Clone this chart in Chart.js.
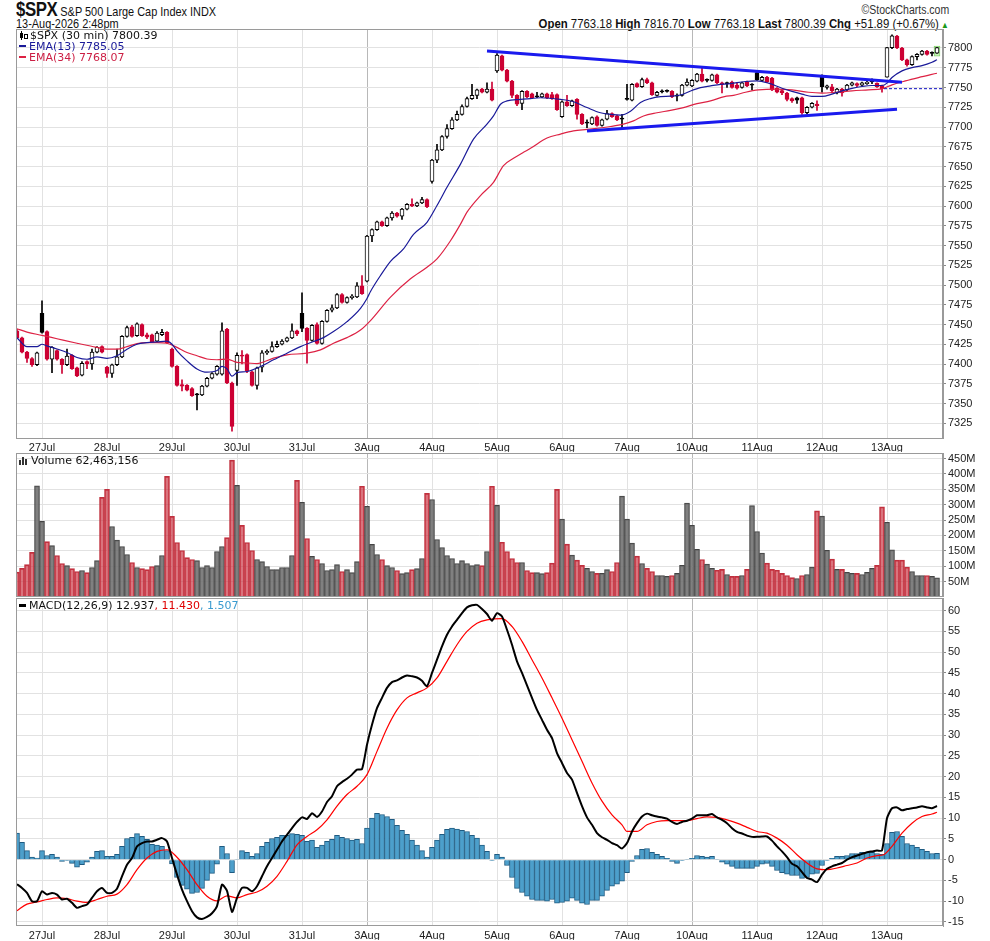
<!DOCTYPE html>
<html>
<head>
<meta charset="utf-8">
<title>$SPX 30 min</title>
<script src="https://cdn.jsdelivr.net/npm/chart.js@4.4.1/dist/chart.umd.min.js"></script>
<style>
  html, body { margin: 0; padding: 0; background: #fff; }
  body { width: 990px; height: 941px; position: relative; overflow: hidden; font-family: "Liberation Sans", Arial, sans-serif; }
  .panel { position: absolute; left: 0; width: 990px; }
  .panel canvas { display: block; }
  .txt { position: absolute; white-space: nowrap; color: #111; }
  .hdr { font-family: "Liberation Sans", Arial, sans-serif; font-size: 13px; line-height: 14px; }
  .sqL { transform: scaleX(0.84); transform-origin: left center; }
  .sqR { transform: scaleX(0.875); transform-origin: right center; }
  .leg { font-family: "DejaVu Sans", Verdana, sans-serif; font-size: 11px; line-height: 11px; }
  .dash { display: inline-block; width: 7px; height: 2px; vertical-align: middle; margin-right: 3px; position: relative; top: -1px; }
</style>
</head>
<body>

<div class="txt hdr sqL" style="left:16px; top:2px;"><b style="font-size:20px; letter-spacing:-0.5px;">$SPX</b> S&amp;P 500 Large Cap Index INDX</div>
<div class="txt hdr sqL" style="left:16px; top:17px;">13-Aug-2026 2:48pm</div>
<div class="txt hdr sqR" style="right:41px; top:3px; color:#333; font-size:12px;">&copy;StockCharts.com</div>
<div class="txt hdr sqR" style="right:41px; top:17px;"><b>Open</b> 7763.18 <b>High</b> 7816.70 <b>Low</b> 7763.18 <b>Last</b> 7800.39 <b>Chg</b> +51.89 (+0.67%)<span style="color:#1a9a1a; font-size:9px;"> &#9650;</span></div>

<div class="panel" style="top:29px; height:423px;"><canvas id="priceChart" width="990" height="423"></canvas></div>
<div class="panel" style="top:453px; height:144px;"><canvas id="volumeChart" width="990" height="144"></canvas></div>
<div class="panel" style="top:598px; height:342px;"><canvas id="macdChart" width="990" height="342"></canvas></div>

<div class="txt leg" style="left:19px; top:30px;">
  <div><svg width="9" height="9" style="vertical-align:-1px; margin-right:2px;"><rect x="1" y="2" width="3" height="5" fill="#000"/><line x1="2.5" y1="0" x2="2.5" y2="9" stroke="#000"/><rect x="5.5" y="3.5" width="3" height="4" fill="#fff" stroke="#000"/></svg>$SPX (30 min) 7800.39</div>
  <div style="color:#1a1a99;"><span class="dash" style="background:#1a1a99;"></span>EMA(13) 7785.05</div>
  <div style="color:#cc1f44;"><span class="dash" style="background:#dd2244;"></span>EMA(34) 7768.07</div>
</div>
<div class="txt leg" style="left:19px; top:455px;"><svg width="9" height="9" style="vertical-align:-1px; margin-right:3px;"><rect x="0" y="4" width="2" height="5" fill="#333"/><rect x="3" y="1" width="2" height="8" fill="#333"/><rect x="6" y="3" width="2" height="6" fill="#333"/></svg>Volume 62,463,156</div>
<div class="txt leg" style="left:19px; top:600px;"><span class="dash" style="background:#000; height:3px;"></span>MACD(12,26,9) 12.937<span style="color:#e00000;">, 11.430</span><span style="color:#3a9bd0;">, 1.507</span></div>

<script>
// ---- x axis: one point per 30-minute bar, day starts get a label ----
const dayIdx = [5, 18, 31, 44, 57, 70, 83, 96, 109, 122, 135, 148, 161, 174];
const dayLabels = ['27Jul', '28Jul', '29Jul', '30Jul', '31Jul', '3Aug', '4Aug', '5Aug', '6Aug', '7Aug', '10Aug', '11Aug', '12Aug', '13Aug'];
const weekStartLabels = ['3Aug', '10Aug'];

// ---- price bars (30 min) ----
const opens = [
  7442, 7433, 7415, 7407, 7399,
  7464, 7441, 7406, 7417, 7406, 7399, 7411, 7395, 7386, 7403, 7400, 7415, 7422,
  7396, 7388, 7399, 7409, 7435, 7447, 7436, 7450, 7437, 7437, 7429, 7437, 7440,
  7419, 7397, 7374, 7373, 7369, 7362, 7361, 7372, 7382, 7387, 7387, 7444, 7376,
  7392, 7411, 7412, 7390, 7373, 7396, 7414, 7416, 7422, 7425, 7429, 7433, 7442,
  7464, 7445, 7430, 7450, 7426, 7454, 7468, 7471, 7488, 7478, 7484, 7485, 7499,
  7505, 7562, 7570, 7580, 7575, 7585, 7591, 7587, 7596, 7602, 7600, 7604, 7608,
  7631, 7658, 7671, 7688, 7698, 7709, 7716, 7726, 7736, 7740, 7748, 7744, 7748,
  7771, 7790, 7772, 7758, 7740, 7730, 7745, 7742, 7739.5, 7738, 7742, 7741, 7741,
  7713, 7732, 7727, 7735, 7716, 7706, 7704, 7713, 7702, 7710, 7717, 7714, 7711,
  7736, 7734, 7755, 7751, 7760, 7756, 7740, 7745, 7746, 7745, 7740, 7740, 7753,
  7752, 7758, 7767, 7760, 7759, 7766, 7756, 7756, 7757, 7753, 7750, 7757, 7754,
  7769, 7759, 7763, 7762, 7749, 7746, 7743, 7736, 7737, 7737, 7718, 7725, 7729,
  7765, 7750, 7751, 7743, 7748, 7747, 7753, 7755, 7753, 7755, 7757.5, 7755.5, 7752.5,
  7763.18, 7800.4, 7815, 7800, 7785, 7779, 7789, 7792, 7796, 7794, 7793.3
];
const highs = [
  7444, 7434, 7416, 7408, 7415,
  7480, 7442, 7422, 7418, 7407, 7419, 7412, 7396, 7403, 7404, 7419, 7422, 7423,
  7397, 7400, 7419, 7436, 7448, 7449, 7452, 7451, 7439, 7438, 7441, 7444, 7441,
  7420, 7398, 7380, 7374, 7370, 7363, 7373, 7383, 7389, 7398, 7452, 7445, 7377,
  7414, 7417, 7413, 7391, 7396, 7417, 7418, 7428, 7429, 7431, 7434, 7451, 7443,
  7490, 7446, 7450, 7452, 7455, 7469, 7475, 7489, 7489, 7485, 7488, 7503, 7512,
  7563, 7571, 7581, 7581, 7586, 7593, 7592, 7597, 7603, 7609, 7605, 7611, 7609,
  7659, 7678, 7689, 7703, 7712, 7720, 7728, 7738, 7754, 7748, 7749, 7756, 7757,
  7793, 7791, 7773, 7759, 7741, 7746, 7746, 7743, 7744, 7743, 7743, 7744, 7742,
  7733, 7740, 7734, 7736, 7717, 7709, 7713, 7714, 7710, 7721, 7718, 7715, 7716,
  7754, 7755, 7756, 7762, 7762, 7757, 7745, 7747, 7747, 7746, 7742, 7754, 7761,
  7760, 7768, 7775, 7761, 7767, 7767, 7757, 7757, 7758, 7756, 7757, 7758, 7755,
  7770, 7764, 7764, 7763, 7750, 7747, 7744, 7737, 7738, 7738, 7726, 7731, 7733,
  7766, 7753, 7754, 7749, 7749, 7754, 7757, 7756, 7757, 7758, 7761, 7756, 7753,
  7801, 7816.7, 7816, 7801, 7786, 7790, 7793, 7797, 7797, 7795, 7801
];
const lows = [
  7432, 7414, 7402, 7397, 7398,
  7439, 7405, 7389, 7405, 7388, 7398, 7393, 7384, 7385, 7394, 7393, 7414, 7414,
  7383, 7383, 7398, 7408, 7434, 7434, 7435, 7435, 7432, 7427, 7428, 7436, 7426,
  7396, 7372, 7366, 7366, 7359, 7342, 7360, 7371, 7381, 7386, 7386, 7375, 7315,
  7373, 7400, 7389, 7372, 7368, 7390, 7412, 7415, 7421, 7424, 7428, 7432, 7436,
  7441, 7401, 7429, 7425, 7425, 7453, 7466, 7470, 7477, 7477, 7482, 7484, 7488,
  7504, 7555, 7569, 7574, 7574, 7582, 7586, 7583, 7595, 7599, 7599, 7603, 7598,
  7629, 7655, 7670, 7686, 7697, 7708, 7715, 7725, 7735, 7736, 7743, 7743, 7733,
  7769, 7771, 7757, 7737, 7727, 7722, 7737, 7736, 7737, 7737, 7736, 7735, 7721,
  7712, 7726, 7726, 7710, 7703, 7699, 7703, 7701, 7701, 7709, 7712, 7708, 7699,
  7734, 7733, 7750, 7750, 7755, 7740, 7739, 7743, 7744, 7737, 7733, 7739, 7752,
  7751, 7757, 7757, 7757, 7758, 7755, 7743, 7750, 7749, 7748, 7749, 7751, 7747,
  7759, 7758, 7756, 7746, 7743, 7741, 7733, 7731, 7730, 7716, 7717, 7724, 7721,
  7744, 7748, 7743, 7742, 7739, 7746, 7752, 7751, 7752, 7754, 7755, 7750, 7744,
  7763.18, 7799, 7799, 7784, 7777, 7778, 7785, 7791, 7791, 7790, 7793
];
const closes = [
  7433, 7415, 7407, 7399, 7414,
  7440, 7406, 7421, 7406, 7399, 7410, 7394, 7385, 7401, 7400, 7415, 7421, 7415,
  7388, 7399, 7409, 7435, 7446, 7435, 7451, 7436, 7434, 7428, 7439, 7440, 7427,
  7397, 7373, 7372, 7367, 7360, 7361, 7372, 7382, 7388, 7397, 7442, 7376, 7321,
  7411, 7410, 7391, 7373, 7395, 7414, 7416, 7422, 7425, 7429, 7433, 7442, 7438,
  7445, 7430, 7449, 7426, 7454, 7468, 7471, 7488, 7478, 7484, 7486, 7499, 7489,
  7562, 7570, 7580, 7575, 7585, 7591, 7587, 7596, 7602, 7600, 7604, 7608, 7599,
  7658, 7671, 7688, 7698, 7709, 7716, 7726, 7736, 7740, 7747, 7744, 7748, 7734,
  7791, 7772, 7758, 7740, 7729, 7745, 7738, 7737, 7738, 7742, 7737, 7736, 7722,
  7732, 7727, 7733, 7716, 7704, 7705, 7712, 7702, 7709, 7717, 7713, 7709, 7710,
  7735, 7754, 7751, 7760, 7756, 7741, 7744, 7744.5, 7745, 7738, 7739, 7753, 7757,
  7759, 7767, 7758, 7759, 7766, 7756, 7754, 7755, 7750, 7749, 7756, 7752, 7753,
  7760, 7763, 7757, 7747, 7744, 7743, 7735, 7733, 7734, 7718, 7725, 7730, 7727,
  7751, 7752, 7746, 7748, 7743, 7753, 7756, 7752.5, 7756, 7756.7, 7757, 7751, 7748.5,
  7800.4, 7815.5, 7800, 7785, 7779, 7789, 7792, 7796, 7792, 7793.2, 7800.39
];
const firstPrevClose = 7445;   // close of the bar before the first one shown
const prevDayClose = 7748.5;   // dashed line across 13Aug
const prevCloseLineIdx = [173.4, 185.2];

// ---- overlays on price ----
const ema13Idx = [0, 2, 4, 5, 6, 8, 10, 12, 14, 16, 18, 20, 22, 24, 26, 28, 30, 31, 32, 34, 36, 38, 40, 41, 42, 43, 44, 46,
  48.7, 51.3, 54, 56.7, 59.3, 61.3, 63.3, 66, 68.7, 70, 70.7, 72.7, 74.7, 77.3, 79.3, 82, 84, 86, 88.7, 91.3, 94, 95.3, 96.7, 98,
  100.7, 102.7, 104.7, 108.7, 111.3, 114, 116.7, 118.7, 120.7, 122.7, 124.7, 126.7, 128.7, 130.7, 132.7, 134.7, 136.7, 138.7, 140.7,
  142.3, 145.7, 148, 150.3, 153, 155, 157, 159, 161, 163, 165, 167, 169, 171, 173, 174, 175, 177, 179, 181, 183, 184];
const ema13Val = [7433.3, 7422, 7422, 7425, 7423, 7419, 7414.6, 7408.3, 7406, 7409, 7407, 7410.4, 7418.8, 7425, 7427, 7428, 7429, 7425, 7416.7, 7404, 7393.8, 7389.6, 7391.7, 7397, 7393.8, 7384.6, 7389, 7390.5,
  7396.8, 7405.3, 7413.7, 7422, 7428.4, 7433.4, 7441, 7453.6, 7470.4, 7483, 7491.8, 7512, 7530, 7545.6, 7564, 7579.4, 7600.6, 7623.7, 7653, 7684.7, 7703.6, 7714, 7728.8, 7733,
  7735, 7736, 7737, 7735, 7732, 7724.6, 7718, 7716, 7715, 7720, 7731, 7736, 7738.4, 7739, 7740.5, 7745.6, 7749.8, 7752, 7754,
  7754.5, 7757.6, 7758.4, 7755.5, 7749, 7745, 7741.6, 7738.7, 7738.7, 7741.6, 7745.8, 7749, 7751.3, 7752.5, 7752.5, 7755.5, 7762.6, 7771, 7775.2, 7777.7, 7782, 7785.05];
const ema34Idx = [0, 2, 5, 8, 12, 16, 18, 20, 22, 24, 26, 28, 30, 32, 34, 36, 38, 40, 42, 44, 46, 48, 51.3, 54, 58, 60.7, 63.3, 66, 68.7, 70.7,
  74.7, 78.7, 82, 84, 86.7, 88.7, 90, 92.7, 95.3, 97.3, 99.3, 101.3, 102.7, 106, 108.7, 111.3, 114, 118.7, 121.3, 123.3, 125.3, 128, 130.7,
  133.3, 136, 138.7, 141.5, 143.3, 145.7, 148.3, 151.7, 155, 158.3, 161, 163.7, 167, 170.3, 173, 175, 177.7, 180.3, 184];
const ema34Val = [7444.6, 7440.4, 7436.3, 7432, 7426.3, 7421, 7418.8, 7418.8, 7422, 7425.8, 7427, 7427, 7426.3, 7421, 7414.6, 7410.4, 7406.3, 7405.4, 7406.3, 7402, 7401.3, 7400.5, 7407.4, 7411.6, 7413.7, 7417.9, 7426.3, 7433.4, 7443, 7455,
  7484.7, 7507.8, 7522.5, 7533, 7556, 7577, 7592.2, 7613.2, 7630, 7651, 7660.3, 7668, 7673, 7686, 7691, 7695, 7697, 7700.6, 7703.6, 7707.8, 7714, 7718, 7721,
  7724.6, 7729.6, 7733, 7738.5, 7740, 7744, 7747, 7748, 7747, 7744, 7743, 7744, 7745.8, 7747, 7748.3, 7753.4, 7758.4, 7762.6, 7768.07];
const upperTrendIdx = [94, 177];
const upperTrendVal = [7796.2, 7756.6];
const lowerTrendIdx = [114, 176];
const lowerTrendVal = [7694.9, 7722.4];

// ---- volume, millions of shares ----
const volumes = [
  81, 93, 105, 145, 361,
  246, 180, 167, 135, 109, 102, 92, 83, 86, 79, 96, 118, 324,
  350, 229, 185, 164, 138, 112, 96, 92, 89, 99, 102, 135, 392,
  262, 177, 151, 128, 122, 118, 96, 102, 96, 148, 164, 193, 445,
  363, 233, 177, 151, 122, 115, 99, 89, 89, 96, 96, 135, 379,
  308, 190, 132, 122, 109, 86, 89, 105, 83, 89, 79, 115, 360,
  295, 171, 138, 122, 102, 96, 86, 76, 79, 89, 92, 125, 337,
  317, 187, 161, 135, 125, 109, 118, 109, 102, 105, 102, 148, 360,
  298, 178, 148, 125, 112, 112, 86, 79, 79, 76, 79, 110, 350,
  253, 172, 136, 120, 103, 93, 83, 77, 77, 89, 83, 112, 328,
  253, 175, 133, 109, 93, 83, 70, 70, 67, 70, 77, 103, 305,
  233, 155, 122, 107, 93, 87, 90, 73, 67, 67, 70, 90, 297,
  213, 143, 110, 90, 87, 77, 70, 63, 60, 70, 73, 97, 280,
  263, 152, 123, 90, 90, 80, 77, 77, 73, 80, 93, 103, 293,
  243, 153, 120, 120, 97, 83, 70, 70, 70, 67, 62.46
];

// ---- MACD(12,26,9) ----
const macdVals = [
  -5.9, -6.8, -8.0, -10.0, -10.0,
  -7.6, -8.4, -8.0, -8.4, -9.6, -9.4, -10.4, -11.6, -11.2, -10.8, -9.2, -7.6, -6.8,
  -8.0, -8.0, -7.0, -4.0, -1.2, 0.4, 3.2, 4.0, 4.4, 4.4, 4.8, 5.2, 4.4,
  0.4, -3.6, -7.2, -10.0, -12.4, -13.9, -14.3, -13.8, -12.9, -11.2, -6.0, -7.5, -12.6,
  -9.2, -6.8, -6.8, -7.6, -6.4, -4.0, -1.6, 0.4, 2.4, 4.4, 6.0, 7.6, 9.1,
  10.2, 9.8, 11.2, 10.3, 11.6, 13.9, 15.3, 17.7, 18.7, 19.5, 20.5, 21.7, 21.8,
  27.7, 32.5, 36.5, 39.0, 41.4, 42.8, 43.2, 43.9, 44.4, 44.2, 43.9, 43.1, 41.8,
  45.0, 48.2, 51.4, 54.2, 56.2, 57.8, 59.4, 60.8, 61.3, 61.4, 60.4, 59.2, 57.6,
  59.4, 58.6, 55.4, 51.8, 47.8, 45.0, 42.0, 39.0, 36.1, 33.7, 31.3, 29.3, 25.7,
  23.3, 20.9, 19.3, 16.1, 12.9, 10.2, 8.4, 6.4, 5.4, 4.8, 4.0, 3.5, 2.7,
  4.0, 6.8, 8.8, 10.4, 11.1, 10.7, 10.4, 10.2, 9.9, 9.1, 8.6, 9.1, 9.4,
  9.9, 10.7, 10.7, 10.7, 11.0, 10.2, 9.6, 8.8, 7.6, 6.7, 6.3, 5.8, 5.5,
  5.5, 5.6, 5.6, 4.6, 3.2, 2.0, 0.6, -1.0, -1.6, -3.0, -4.4, -4.8, -5.4,
  -3.6, -2.2, -1.6, -1.2, -0.8, 0.0, 0.6, 1.0, 1.4, 1.8, 2.0, 2.2, 2.2,
  10.0, 12.4, 12.6, 11.9, 12.2, 12.4, 12.6, 12.9, 12.6, 12.4, 12.937
];
const histVals = [
  6.4, 4.2, 2.2, 0.6, 0.4,
  2.2, 1.0, 1.3, 0.6, -0.4, -0.2, -0.9, -1.8, -1.2, -0.6, 0.6, 2.0, 2.2,
  0.8, 0.8, 1.3, 3.2, 5.1, 5.4, 6.3, 5.6, 4.9, 3.7, 3.5, 3.2, 2.2,
  -1.0, -4.3, -6.2, -7.1, -8.1, -7.9, -6.9, -5.0, -3.3, -1.1, 3.2, 1.5, -3.1,
  0.1, 2.2, 1.8, 0.8, 1.5, 3.2, 4.2, 5.1, 5.4, 5.9, 5.9, 6.3, 6.1,
  5.9, 4.4, 4.7, 3.0, 3.5, 4.4, 4.9, 5.9, 5.4, 5.1, 4.7, 4.9, 3.9,
  7.6, 10.0, 11.2, 10.9, 10.4, 9.7, 8.3, 7.1, 6.1, 4.7, 3.5, 2.2, 0.6,
  3.0, 4.7, 6.1, 7.3, 7.6, 7.4, 7.1, 6.8, 5.9, 5.2, 3.5, 2.0, -0.2,
  1.3, 0.6, -1.4, -4.3, -6.9, -7.9, -8.8, -9.6, -9.8, -9.8, -10.0, -9.6, -10.5,
  -10.3, -10.0, -9.3, -9.8, -10.5, -10.8, -9.8, -9.8, -8.8, -7.4, -6.4, -5.9, -5.2,
  -3.1, -0.4, 1.0, 2.5, 2.7, 1.8, 1.3, 0.8, 0.3, -0.4, -0.9, -0.2, 0.1,
  0.3, 1.0, 0.8, 0.6, 0.8, 0.1, -0.6, -1.1, -1.6, -2.1, -2.1, -2.1, -2.1,
  -1.6, -1.1, -0.9, -1.6, -2.6, -3.1, -3.5, -3.8, -3.8, -4.5, -4.3, -3.5, -3.3,
  -1.4, -0.2, 0.3, 0.8, 0.8, 1.0, 1.5, 1.5, 1.8, 1.8, 1.8, 1.5, 1.3,
  3.9, 6.6, 6.8, 5.6, 3.9, 3.5, 3.0, 2.5, 2.0, 1.5, 1.507
];
const signalIdx = [0, 2, 4, 6, 8, 10, 12, 14, 16, 18, 20, 22, 24, 26, 28, 30, 32, 34, 36, 38, 40, 42, 44, 46, 48, 50, 52, 54, 56, 58,
  60, 62, 64, 66, 68, 70, 72, 74, 76, 78, 80, 82, 84, 86, 88, 90, 92, 94, 97, 99, 101, 103, 105, 107, 109, 111, 113, 115, 117, 119,
  121, 122, 124, 126, 128, 130, 132, 134, 136, 138, 140, 142, 144, 146, 148, 150, 152, 154, 156, 158, 160, 162, 164, 166, 168, 170,
  172, 173.3, 175, 177, 179, 181, 183, 184];
const signalVals = [-12.3, -10.7, -10.2, -9.6, -9.2, -9.4, -10.0, -10.3, -9.6, -8.8, -8.3, -6.0, -2.4, 0.4, 2.0, 2.4, 0.6, -2.4, -6.0, -8.8, -9.9, -8.7, -9.2, -8.4, -7.8, -6.4, -4.0, -0.4, 3.6, 5.6,
  7.2, 9.6, 12.9, 15.7, 17.7, 20.5, 26.1, 31.7, 36.1, 39.0, 40.2, 41.4, 43.8, 47.8, 51.8, 55.0, 57.0, 57.8, 58.1, 56.2, 52.6, 48.2, 43.8, 39.0, 34.1, 28.9, 23.7, 18.5, 14.1, 10.8,
  8.4, 6.8, 6.8, 8.4, 9.2, 9.4, 9.4, 9.4, 9.9, 10.3, 10.2, 9.6, 8.8, 7.8, 6.8, 6.4, 5.2, 3.5, 1.2, -0.8, -2.2, -2.4, -2.0, -1.4, -0.8, 0.4,
  1.0, 1.2, 3.2, 6.4, 8.8, 10.4, 11.0, 11.43];

// ---- axis ticks ----
const priceTicks = [7325, 7350, 7375, 7400, 7425, 7450, 7475, 7500, 7525, 7550, 7575, 7600, 7625, 7650, 7675, 7700, 7725, 7750, 7775, 7800];
const volumeTicks = [50, 100, 150, 200, 250, 300, 350, 400, 450];
const macdTicks = [-15, -10, -5, 0, 5, 10, 15, 20, 25, 30, 35, 40, 45, 50, 55, 60];

// ------------------------------------------------------------------
const X_MIN = -0.2, X_MAX = 185.2;
const GRID = '#e2e2e2', GRID_WEEK = '#b8b8b8', FRAME = '#9a9a9a';
const RED = '#cc0033';
const TICK_FONT = { family: 'Liberation Sans', size: 11 };
const weekIdx = weekStartLabels.map(l => dayIdx[dayLabels.indexOf(l)]);
const idx = closes.map((_, i) => i);

const prevCloses = closes.map((c, i) => i === 0 ? firstPrevClose : closes[i - 1]);
const upColor = closes.map((c, i) => c >= prevCloses[i] ? '#000000' : RED);
const isHollow = closes.map((c, i) => c > opens[i]);

// frame around each plot area
const framePlugin = {
    id: 'frame',
    afterDraw(chart) {
        const { ctx, chartArea: a } = chart;
        ctx.save();
        ctx.strokeStyle = FRAME;
        ctx.lineWidth = 1;
        ctx.strokeRect(Math.round(a.left) + 0.5, Math.round(a.top) + 0.5,
            Math.round(a.right - a.left) - 1, Math.round(a.bottom - a.top) - 1);
        ctx.restore();
    }
};

function xScale(showLabels, bandHeight) {
    return {
        type: 'linear',
        min: X_MIN,
        max: X_MAX,
        offset: false,
        afterBuildTicks: s => { s.ticks = dayIdx.map(v => ({ value: v })); },
        afterFit: s => { s.height = bandHeight; s.paddingLeft = 0; s.paddingRight = 0; },
        grid: {
            offset: false,
            color: c => (c.tick && weekIdx.includes(c.tick.value)) ? GRID_WEEK : GRID,
            drawTicks: false
        },
        border: { display: false },
        ticks: {
            display: showLabels,
            autoSkip: false,
            maxRotation: 0,
            padding: 3,
            color: '#222',
            font: TICK_FONT,
            callback: v => dayLabels[dayIdx.indexOf(v)]
        }
    };
}

function yScale(min, max, ticks, fmt) {
    return {
        position: 'right',
        min: min,
        max: max,
        afterBuildTicks: s => { s.ticks = ticks.map(v => ({ value: v })); },
        afterFit: s => { s.width = 47; s.paddingTop = 0; s.paddingBottom = 0; },
        grid: { color: GRID, drawTicks: true, tickLength: 3, tickColor: '#888' },
        border: { display: true, color: FRAME },
        ticks: { autoSkip: false, padding: 2, color: '#222', font: TICK_FONT, callback: fmt }
    };
}

function baseOptions(xs, ys) {
    return {
        responsive: false,
        animation: false,
        events: [],
        layout: { padding: { left: 16, right: 0, top: 0, bottom: 0 } },
        plugins: { legend: { display: false }, tooltip: { enabled: false } },
        scales: { x: xs, y: ys }
    };
}

const pts = (xs, ys) => xs.map((x, k) => ({ x: x, y: ys[k] }));

// ---- price panel ----
const last = closes.length - 1;
new Chart(document.getElementById('priceChart').getContext('2d'), {
    type: 'bar',
    data: {
        datasets: [
            {
                label: 'last bar',
                data: [{ x: last, y: [Math.min(opens[last], closes[last]) - 3.5, Math.max(opens[last], closes[last]) + 2] }],
                backgroundColor: '#c9f2bb',
                borderColor: '#86d470',
                borderWidth: 1,
                borderSkipped: false,
                barThickness: 6,
                grouped: false,
                order: 10
            },
            {
                label: 'wicks',
                data: idx.map(i => ({ x: i, y: [lows[i], highs[i]] })),
                backgroundColor: upColor,
                borderWidth: 0,
                barThickness: 1,
                grouped: false,
                order: 8
            },
            {
                label: 'bodies',
                data: idx.map(i => ({ x: i, y: [opens[i], closes[i]] })),
                backgroundColor: idx.map(i => isHollow[i] ? '#ffffff' : upColor[i]),
                borderColor: upColor,
                borderWidth: 1,
                borderSkipped: false,
                barThickness: 4,
                minBarLength: 1,
                grouped: false,
                order: 7
            },
            {
                type: 'line', label: 'EMA(34)',
                data: pts(ema34Idx, ema34Val),
                borderColor: '#dd2244', borderWidth: 1.2, pointRadius: 0,
                cubicInterpolationMode: 'monotone', order: 4
            },
            {
                type: 'line', label: 'EMA(13)',
                data: pts(ema13Idx, ema13Val),
                borderColor: '#1a1a99', borderWidth: 1.2, pointRadius: 0,
                cubicInterpolationMode: 'monotone', order: 3
            },
            {
                type: 'line', label: 'prev close',
                data: pts(prevCloseLineIdx, prevCloseLineIdx.map(() => prevDayClose)),
                borderColor: '#1010c0', borderWidth: 1, borderDash: [3, 2], pointRadius: 0, order: 2
            },
            {
                type: 'line', label: 'upper trend',
                data: pts(upperTrendIdx, upperTrendVal),
                borderColor: '#1a1aee', borderWidth: 3, pointRadius: 0, order: 1
            },
            {
                type: 'line', label: 'lower trend',
                data: pts(lowerTrendIdx, lowerTrendVal),
                borderColor: '#1a1aee', borderWidth: 3, pointRadius: 0, order: 1
            }
        ]
    },
    options: baseOptions(xScale(true, 13.5), yScale(7305.7, 7824.05, priceTicks, v => v)),
    plugins: [framePlugin]
});

// ---- volume panel ----
new Chart(document.getElementById('volumeChart').getContext('2d'), {
    type: 'bar',
    data: {
        datasets: [{
            label: 'Volume',
            data: idx.map(i => ({ x: i, y: volumes[i] })),
            backgroundColor: upColor.map(c => c === RED ? 'rgba(200,50,65,0.68)' : 'rgba(110,110,110,0.88)'),
            borderColor: upColor.map(c => c === RED ? '#c0303e' : '#444444'),
            borderWidth: 1,
            barThickness: 5,
            grouped: false
        }]
    },
    options: baseOptions(xScale(false, 0), yScale(0, 468, volumeTicks, v => v + 'M')),
    plugins: [framePlugin]
});

// ---- MACD panel ----
new Chart(document.getElementById('macdChart').getContext('2d'), {
    type: 'bar',
    data: {
        datasets: [
            {
                label: 'Histogram',
                data: idx.map(i => ({ x: i, y: histVals[i] })),
                backgroundColor: '#4c9fcb',
                borderColor: '#1e5b82',
                borderWidth: 1,
                barThickness: 5,
                grouped: false,
                order: 5
            },
            {
                type: 'line', label: 'Signal',
                data: pts(signalIdx, signalVals),
                borderColor: '#ff0000', borderWidth: 1.2, pointRadius: 0,
                cubicInterpolationMode: 'monotone', order: 2
            },
            {
                type: 'line', label: 'MACD',
                data: idx.map(i => ({ x: i, y: macdVals[i] })),
                borderColor: '#000000', borderWidth: 2, pointRadius: 0,
                tension: 0.2, order: 1
            }
        ]
    },
    options: baseOptions(xScale(true, 13.7), yScale(-16.05, 63.06, macdTicks, v => v)),
    plugins: [framePlugin]
});
</script>
</body>
</html>
